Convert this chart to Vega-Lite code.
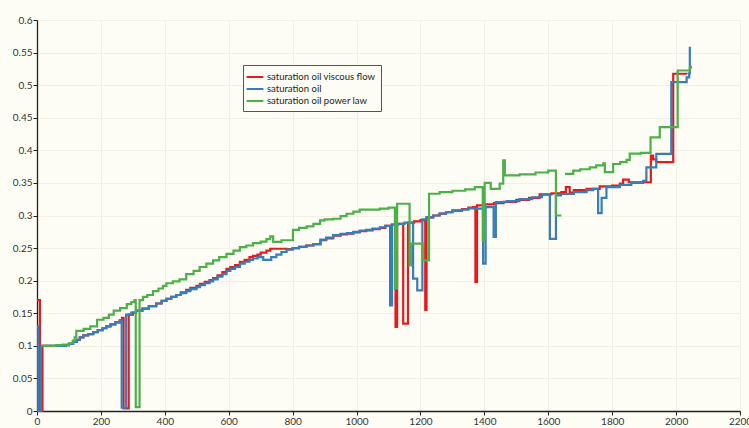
{
  "$schema": "https://vega.github.io/schema/vega-lite/v6.json",
  "width": 703,
  "height": 391,
  "autosize": {"type": "none"},
  "padding": {"left": 37, "top": 20, "right": 9, "bottom": 17},
  "background": "#fdfdf5",
  "config": {
    "view": {"stroke": null, "fill": "#fdfdf5"},
    "font": "Lato",
    "axis": {
      "grid": true,
      "gridColor": "#f1f1e4",
      "gridWidth": 1,
      "domainColor": "#222222",
      "domainWidth": 1.3,
      "tickColor": "#222222",
      "tickSize": 4,
      "labelFont": "Lato",
      "labelFontSize": 10,
      "labelColor": "#333333",
      "title": null
    }
  },
  "datasets": {
    "series": [
      {"s": "saturation oil viscous flow", "x": 0, "y": 0.17},
      {"s": "saturation oil viscous flow", "x": 9, "y": 0},
      {"s": "saturation oil viscous flow", "x": 17, "y": 0.1},
      {"s": "saturation oil viscous flow", "x": 60, "y": 0.1},
      {"s": "saturation oil viscous flow", "x": 90, "y": 0.101},
      {"s": "saturation oil viscous flow", "x": 100, "y": 0.103},
      {"s": "saturation oil viscous flow", "x": 113, "y": 0.106},
      {"s": "saturation oil viscous flow", "x": 125, "y": 0.109},
      {"s": "saturation oil viscous flow", "x": 134, "y": 0.113},
      {"s": "saturation oil viscous flow", "x": 145, "y": 0.116},
      {"s": "saturation oil viscous flow", "x": 160, "y": 0.118},
      {"s": "saturation oil viscous flow", "x": 176, "y": 0.121},
      {"s": "saturation oil viscous flow", "x": 190, "y": 0.124},
      {"s": "saturation oil viscous flow", "x": 205, "y": 0.127},
      {"s": "saturation oil viscous flow", "x": 217, "y": 0.13},
      {"s": "saturation oil viscous flow", "x": 230, "y": 0.133},
      {"s": "saturation oil viscous flow", "x": 245, "y": 0.136},
      {"s": "saturation oil viscous flow", "x": 259, "y": 0.139},
      {"s": "saturation oil viscous flow", "x": 266, "y": 0.143},
      {"s": "saturation oil viscous flow", "x": 271, "y": 0.004},
      {"s": "saturation oil viscous flow", "x": 287, "y": 0.148},
      {"s": "saturation oil viscous flow", "x": 300, "y": 0.151},
      {"s": "saturation oil viscous flow", "x": 310, "y": 0.154},
      {"s": "saturation oil viscous flow", "x": 330, "y": 0.157},
      {"s": "saturation oil viscous flow", "x": 350, "y": 0.161},
      {"s": "saturation oil viscous flow", "x": 373, "y": 0.165},
      {"s": "saturation oil viscous flow", "x": 390, "y": 0.169},
      {"s": "saturation oil viscous flow", "x": 405, "y": 0.172},
      {"s": "saturation oil viscous flow", "x": 420, "y": 0.175},
      {"s": "saturation oil viscous flow", "x": 436, "y": 0.178},
      {"s": "saturation oil viscous flow", "x": 450, "y": 0.182},
      {"s": "saturation oil viscous flow", "x": 467, "y": 0.186},
      {"s": "saturation oil viscous flow", "x": 480, "y": 0.189},
      {"s": "saturation oil viscous flow", "x": 499, "y": 0.192},
      {"s": "saturation oil viscous flow", "x": 510, "y": 0.195},
      {"s": "saturation oil viscous flow", "x": 525, "y": 0.198},
      {"s": "saturation oil viscous flow", "x": 540, "y": 0.201},
      {"s": "saturation oil viscous flow", "x": 551, "y": 0.204},
      {"s": "saturation oil viscous flow", "x": 565, "y": 0.208},
      {"s": "saturation oil viscous flow", "x": 580, "y": 0.213},
      {"s": "saturation oil viscous flow", "x": 593, "y": 0.218},
      {"s": "saturation oil viscous flow", "x": 605, "y": 0.221},
      {"s": "saturation oil viscous flow", "x": 620, "y": 0.224},
      {"s": "saturation oil viscous flow", "x": 635, "y": 0.229},
      {"s": "saturation oil viscous flow", "x": 650, "y": 0.232},
      {"s": "saturation oil viscous flow", "x": 665, "y": 0.236},
      {"s": "saturation oil viscous flow", "x": 676, "y": 0.238},
      {"s": "saturation oil viscous flow", "x": 690, "y": 0.24},
      {"s": "saturation oil viscous flow", "x": 700, "y": 0.243},
      {"s": "saturation oil viscous flow", "x": 718, "y": 0.246},
      {"s": "saturation oil viscous flow", "x": 730, "y": 0.249},
      {"s": "saturation oil viscous flow", "x": 781, "y": 0.2485},
      {"s": "saturation oil viscous flow", "x": 800, "y": 0.25},
      {"s": "saturation oil viscous flow", "x": 820, "y": 0.252},
      {"s": "saturation oil viscous flow", "x": 843, "y": 0.254},
      {"s": "saturation oil viscous flow", "x": 865, "y": 0.256},
      {"s": "saturation oil viscous flow", "x": 887, "y": 0.262},
      {"s": "saturation oil viscous flow", "x": 905, "y": 0.265},
      {"s": "saturation oil viscous flow", "x": 927, "y": 0.269},
      {"s": "saturation oil viscous flow", "x": 950, "y": 0.271},
      {"s": "saturation oil viscous flow", "x": 970, "y": 0.272},
      {"s": "saturation oil viscous flow", "x": 990, "y": 0.274},
      {"s": "saturation oil viscous flow", "x": 1010, "y": 0.276},
      {"s": "saturation oil viscous flow", "x": 1030, "y": 0.277},
      {"s": "saturation oil viscous flow", "x": 1050, "y": 0.279},
      {"s": "saturation oil viscous flow", "x": 1073, "y": 0.281},
      {"s": "saturation oil viscous flow", "x": 1090, "y": 0.284},
      {"s": "saturation oil viscous flow", "x": 1110, "y": 0.286},
      {"s": "saturation oil viscous flow", "x": 1122, "y": 0.129},
      {"s": "saturation oil viscous flow", "x": 1127, "y": 0.287},
      {"s": "saturation oil viscous flow", "x": 1146, "y": 0.134},
      {"s": "saturation oil viscous flow", "x": 1161, "y": 0.289},
      {"s": "saturation oil viscous flow", "x": 1180, "y": 0.291},
      {"s": "saturation oil viscous flow", "x": 1200, "y": 0.293},
      {"s": "saturation oil viscous flow", "x": 1215, "y": 0.155},
      {"s": "saturation oil viscous flow", "x": 1219, "y": 0.297},
      {"s": "saturation oil viscous flow", "x": 1240, "y": 0.3},
      {"s": "saturation oil viscous flow", "x": 1260, "y": 0.303},
      {"s": "saturation oil viscous flow", "x": 1280, "y": 0.305},
      {"s": "saturation oil viscous flow", "x": 1300, "y": 0.308},
      {"s": "saturation oil viscous flow", "x": 1330, "y": 0.31},
      {"s": "saturation oil viscous flow", "x": 1350, "y": 0.312},
      {"s": "saturation oil viscous flow", "x": 1365, "y": 0.313},
      {"s": "saturation oil viscous flow", "x": 1372, "y": 0.198},
      {"s": "saturation oil viscous flow", "x": 1377, "y": 0.3155},
      {"s": "saturation oil viscous flow", "x": 1400, "y": 0.317},
      {"s": "saturation oil viscous flow", "x": 1430, "y": 0.319},
      {"s": "saturation oil viscous flow", "x": 1460, "y": 0.321},
      {"s": "saturation oil viscous flow", "x": 1500, "y": 0.324},
      {"s": "saturation oil viscous flow", "x": 1540, "y": 0.327},
      {"s": "saturation oil viscous flow", "x": 1573, "y": 0.3324},
      {"s": "saturation oil viscous flow", "x": 1610, "y": 0.334},
      {"s": "saturation oil viscous flow", "x": 1641, "y": 0.336},
      {"s": "saturation oil viscous flow", "x": 1655, "y": 0.3436},
      {"s": "saturation oil viscous flow", "x": 1667, "y": 0.335},
      {"s": "saturation oil viscous flow", "x": 1680, "y": 0.339},
      {"s": "saturation oil viscous flow", "x": 1720, "y": 0.341},
      {"s": "saturation oil viscous flow", "x": 1761, "y": 0.3446},
      {"s": "saturation oil viscous flow", "x": 1800, "y": 0.346},
      {"s": "saturation oil viscous flow", "x": 1824, "y": 0.3488},
      {"s": "saturation oil viscous flow", "x": 1834, "y": 0.355},
      {"s": "saturation oil viscous flow", "x": 1852, "y": 0.351},
      {"s": "saturation oil viscous flow", "x": 1921, "y": 0.392},
      {"s": "saturation oil viscous flow", "x": 1928, "y": 0.386},
      {"s": "saturation oil viscous flow", "x": 1938, "y": 0.382},
      {"s": "saturation oil viscous flow", "x": 1991, "y": 0.5175},
      {"s": "saturation oil viscous flow", "x": 2033, "y": 0.5166},

      {"s": "saturation oil", "x": 0, "y": 0.13},
      {"s": "saturation oil", "x": 4, "y": 0},
      {"s": "saturation oil", "x": 12, "y": 0.1},
      {"s": "saturation oil", "x": 60, "y": 0.1},
      {"s": "saturation oil", "x": 90, "y": 0.101},
      {"s": "saturation oil", "x": 100, "y": 0.103},
      {"s": "saturation oil", "x": 113, "y": 0.106},
      {"s": "saturation oil", "x": 125, "y": 0.109},
      {"s": "saturation oil", "x": 134, "y": 0.113},
      {"s": "saturation oil", "x": 145, "y": 0.116},
      {"s": "saturation oil", "x": 160, "y": 0.118},
      {"s": "saturation oil", "x": 176, "y": 0.121},
      {"s": "saturation oil", "x": 190, "y": 0.124},
      {"s": "saturation oil", "x": 205, "y": 0.127},
      {"s": "saturation oil", "x": 217, "y": 0.13},
      {"s": "saturation oil", "x": 230, "y": 0.133},
      {"s": "saturation oil", "x": 245, "y": 0.136},
      {"s": "saturation oil", "x": 259, "y": 0.139},
      {"s": "saturation oil", "x": 265, "y": 0.005},
      {"s": "saturation oil", "x": 279, "y": 0.148},
      {"s": "saturation oil", "x": 295, "y": 0.151},
      {"s": "saturation oil", "x": 310, "y": 0.154},
      {"s": "saturation oil", "x": 330, "y": 0.157},
      {"s": "saturation oil", "x": 350, "y": 0.161},
      {"s": "saturation oil", "x": 373, "y": 0.165},
      {"s": "saturation oil", "x": 390, "y": 0.169},
      {"s": "saturation oil", "x": 405, "y": 0.172},
      {"s": "saturation oil", "x": 420, "y": 0.175},
      {"s": "saturation oil", "x": 436, "y": 0.178},
      {"s": "saturation oil", "x": 450, "y": 0.181},
      {"s": "saturation oil", "x": 467, "y": 0.184},
      {"s": "saturation oil", "x": 480, "y": 0.187},
      {"s": "saturation oil", "x": 499, "y": 0.19},
      {"s": "saturation oil", "x": 510, "y": 0.193},
      {"s": "saturation oil", "x": 525, "y": 0.196},
      {"s": "saturation oil", "x": 540, "y": 0.199},
      {"s": "saturation oil", "x": 551, "y": 0.202},
      {"s": "saturation oil", "x": 565, "y": 0.206},
      {"s": "saturation oil", "x": 580, "y": 0.21},
      {"s": "saturation oil", "x": 593, "y": 0.215},
      {"s": "saturation oil", "x": 605, "y": 0.218},
      {"s": "saturation oil", "x": 620, "y": 0.221},
      {"s": "saturation oil", "x": 635, "y": 0.226},
      {"s": "saturation oil", "x": 650, "y": 0.229},
      {"s": "saturation oil", "x": 665, "y": 0.232},
      {"s": "saturation oil", "x": 676, "y": 0.234},
      {"s": "saturation oil", "x": 690, "y": 0.236},
      {"s": "saturation oil", "x": 708, "y": 0.232},
      {"s": "saturation oil", "x": 733, "y": 0.236},
      {"s": "saturation oil", "x": 749, "y": 0.24},
      {"s": "saturation oil", "x": 765, "y": 0.244},
      {"s": "saturation oil", "x": 781, "y": 0.2475},
      {"s": "saturation oil", "x": 800, "y": 0.25},
      {"s": "saturation oil", "x": 820, "y": 0.252},
      {"s": "saturation oil", "x": 843, "y": 0.254},
      {"s": "saturation oil", "x": 865, "y": 0.256},
      {"s": "saturation oil", "x": 887, "y": 0.263},
      {"s": "saturation oil", "x": 905, "y": 0.266},
      {"s": "saturation oil", "x": 927, "y": 0.27},
      {"s": "saturation oil", "x": 950, "y": 0.272},
      {"s": "saturation oil", "x": 970, "y": 0.273},
      {"s": "saturation oil", "x": 990, "y": 0.275},
      {"s": "saturation oil", "x": 1010, "y": 0.277},
      {"s": "saturation oil", "x": 1030, "y": 0.278},
      {"s": "saturation oil", "x": 1050, "y": 0.28},
      {"s": "saturation oil", "x": 1073, "y": 0.282},
      {"s": "saturation oil", "x": 1090, "y": 0.284},
      {"s": "saturation oil", "x": 1105, "y": 0.162},
      {"s": "saturation oil", "x": 1111, "y": 0.286},
      {"s": "saturation oil", "x": 1130, "y": 0.287},
      {"s": "saturation oil", "x": 1150, "y": 0.289},
      {"s": "saturation oil", "x": 1177, "y": 0.203},
      {"s": "saturation oil", "x": 1190, "y": 0.185},
      {"s": "saturation oil", "x": 1206, "y": 0.294},
      {"s": "saturation oil", "x": 1219, "y": 0.297},
      {"s": "saturation oil", "x": 1240, "y": 0.3},
      {"s": "saturation oil", "x": 1260, "y": 0.303},
      {"s": "saturation oil", "x": 1280, "y": 0.305},
      {"s": "saturation oil", "x": 1300, "y": 0.307},
      {"s": "saturation oil", "x": 1330, "y": 0.309},
      {"s": "saturation oil", "x": 1350, "y": 0.311},
      {"s": "saturation oil", "x": 1370, "y": 0.3104},
      {"s": "saturation oil", "x": 1396, "y": 0.226},
      {"s": "saturation oil", "x": 1404, "y": 0.313},
      {"s": "saturation oil", "x": 1429, "y": 0.267},
      {"s": "saturation oil", "x": 1436, "y": 0.3206},
      {"s": "saturation oil", "x": 1470, "y": 0.322},
      {"s": "saturation oil", "x": 1510, "y": 0.325},
      {"s": "saturation oil", "x": 1550, "y": 0.328},
      {"s": "saturation oil", "x": 1580, "y": 0.332},
      {"s": "saturation oil", "x": 1605, "y": 0.264},
      {"s": "saturation oil", "x": 1624, "y": 0.331},
      {"s": "saturation oil", "x": 1640, "y": 0.333},
      {"s": "saturation oil", "x": 1680, "y": 0.336},
      {"s": "saturation oil", "x": 1720, "y": 0.339},
      {"s": "saturation oil", "x": 1740, "y": 0.341},
      {"s": "saturation oil", "x": 1756, "y": 0.3037},
      {"s": "saturation oil", "x": 1767, "y": 0.327},
      {"s": "saturation oil", "x": 1782, "y": 0.3436},
      {"s": "saturation oil", "x": 1824, "y": 0.347},
      {"s": "saturation oil", "x": 1860, "y": 0.35},
      {"s": "saturation oil", "x": 1897, "y": 0.353},
      {"s": "saturation oil", "x": 1907, "y": 0.374},
      {"s": "saturation oil", "x": 1938, "y": 0.3947},
      {"s": "saturation oil", "x": 1985, "y": 0.5046},
      {"s": "saturation oil", "x": 2033, "y": 0.512},
      {"s": "saturation oil", "x": 2041, "y": 0.518},
      {"s": "saturation oil", "x": 2043, "y": 0.559},

      {"s": "saturation oil power law", "x": 14, "y": 0.1},
      {"s": "saturation oil power law", "x": 60, "y": 0.101},
      {"s": "saturation oil power law", "x": 80, "y": 0.102},
      {"s": "saturation oil power law", "x": 100, "y": 0.104},
      {"s": "saturation oil power law", "x": 112, "y": 0.108},
      {"s": "saturation oil power law", "x": 118, "y": 0.113},
      {"s": "saturation oil power law", "x": 123, "y": 0.123},
      {"s": "saturation oil power law", "x": 146, "y": 0.126},
      {"s": "saturation oil power law", "x": 167, "y": 0.13},
      {"s": "saturation oil power law", "x": 188, "y": 0.14},
      {"s": "saturation oil power law", "x": 208, "y": 0.143},
      {"s": "saturation oil power law", "x": 225, "y": 0.148},
      {"s": "saturation oil power law", "x": 240, "y": 0.154},
      {"s": "saturation oil power law", "x": 260, "y": 0.158},
      {"s": "saturation oil power law", "x": 281, "y": 0.164},
      {"s": "saturation oil power law", "x": 295, "y": 0.167},
      {"s": "saturation oil power law", "x": 305, "y": 0.17},
      {"s": "saturation oil power law", "x": 309, "y": 0.006},
      {"s": "saturation oil power law", "x": 321, "y": 0.17},
      {"s": "saturation oil power law", "x": 332, "y": 0.175},
      {"s": "saturation oil power law", "x": 345, "y": 0.178},
      {"s": "saturation oil power law", "x": 363, "y": 0.184},
      {"s": "saturation oil power law", "x": 380, "y": 0.188},
      {"s": "saturation oil power law", "x": 394, "y": 0.192},
      {"s": "saturation oil power law", "x": 405, "y": 0.196},
      {"s": "saturation oil power law", "x": 425, "y": 0.199},
      {"s": "saturation oil power law", "x": 446, "y": 0.202},
      {"s": "saturation oil power law", "x": 467, "y": 0.21},
      {"s": "saturation oil power law", "x": 490, "y": 0.215},
      {"s": "saturation oil power law", "x": 509, "y": 0.221},
      {"s": "saturation oil power law", "x": 530, "y": 0.226},
      {"s": "saturation oil power law", "x": 551, "y": 0.231},
      {"s": "saturation oil power law", "x": 570, "y": 0.236},
      {"s": "saturation oil power law", "x": 593, "y": 0.241},
      {"s": "saturation oil power law", "x": 615, "y": 0.246},
      {"s": "saturation oil power law", "x": 635, "y": 0.2515},
      {"s": "saturation oil power law", "x": 655, "y": 0.254},
      {"s": "saturation oil power law", "x": 676, "y": 0.2577},
      {"s": "saturation oil power law", "x": 700, "y": 0.26},
      {"s": "saturation oil power law", "x": 718, "y": 0.2638},
      {"s": "saturation oil power law", "x": 730, "y": 0.268},
      {"s": "saturation oil power law", "x": 739, "y": 0.2595},
      {"s": "saturation oil power law", "x": 765, "y": 0.262},
      {"s": "saturation oil power law", "x": 801, "y": 0.278},
      {"s": "saturation oil power law", "x": 820, "y": 0.281},
      {"s": "saturation oil power law", "x": 844, "y": 0.2833},
      {"s": "saturation oil power law", "x": 865, "y": 0.287},
      {"s": "saturation oil power law", "x": 886, "y": 0.2925},
      {"s": "saturation oil power law", "x": 900, "y": 0.294},
      {"s": "saturation oil power law", "x": 927, "y": 0.295},
      {"s": "saturation oil power law", "x": 950, "y": 0.299},
      {"s": "saturation oil power law", "x": 969, "y": 0.3027},
      {"s": "saturation oil power law", "x": 990, "y": 0.306},
      {"s": "saturation oil power law", "x": 1010, "y": 0.309},
      {"s": "saturation oil power law", "x": 1073, "y": 0.3104},
      {"s": "saturation oil power law", "x": 1100, "y": 0.312},
      {"s": "saturation oil power law", "x": 1120, "y": 0.188},
      {"s": "saturation oil power law", "x": 1127, "y": 0.318},
      {"s": "saturation oil power law", "x": 1166, "y": 0.2235},
      {"s": "saturation oil power law", "x": 1170, "y": 0.2567},
      {"s": "saturation oil power law", "x": 1207, "y": 0.231},
      {"s": "saturation oil power law", "x": 1227, "y": 0.3334},
      {"s": "saturation oil power law", "x": 1260, "y": 0.336},
      {"s": "saturation oil power law", "x": 1300, "y": 0.338},
      {"s": "saturation oil power law", "x": 1340, "y": 0.34},
      {"s": "saturation oil power law", "x": 1370, "y": 0.3436},
      {"s": "saturation oil power law", "x": 1395, "y": 0.262},
      {"s": "saturation oil power law", "x": 1401, "y": 0.35},
      {"s": "saturation oil power law", "x": 1420, "y": 0.341},
      {"s": "saturation oil power law", "x": 1448, "y": 0.349},
      {"s": "saturation oil power law", "x": 1459, "y": 0.3845},
      {"s": "saturation oil power law", "x": 1464, "y": 0.3615},
      {"s": "saturation oil power law", "x": 1510, "y": 0.363},
      {"s": "saturation oil power law", "x": 1560, "y": 0.366},
      {"s": "saturation oil power law", "x": 1600, "y": 0.369},
      {"s": "saturation oil power law", "x": 1624, "y": 0.3},
      {"s": "saturation oil power law", "x": 1641, "y": 0.3},
      {"s": "saturation oil power law", "x": 1646, "y": null},
      {"s": "saturation oil power law", "x": 1652, "y": 0.364},
      {"s": "saturation oil power law", "x": 1678, "y": 0.369},
      {"s": "saturation oil power law", "x": 1700, "y": 0.371},
      {"s": "saturation oil power law", "x": 1730, "y": 0.374},
      {"s": "saturation oil power law", "x": 1750, "y": 0.377},
      {"s": "saturation oil power law", "x": 1772, "y": 0.38},
      {"s": "saturation oil power law", "x": 1777, "y": 0.3666},
      {"s": "saturation oil power law", "x": 1803, "y": 0.379},
      {"s": "saturation oil power law", "x": 1825, "y": 0.382},
      {"s": "saturation oil power law", "x": 1845, "y": 0.3855},
      {"s": "saturation oil power law", "x": 1855, "y": 0.3948},
      {"s": "saturation oil power law", "x": 1890, "y": 0.396},
      {"s": "saturation oil power law", "x": 1920, "y": 0.42},
      {"s": "saturation oil power law", "x": 1949, "y": 0.4356},
      {"s": "saturation oil power law", "x": 2005, "y": 0.5225},
      {"s": "saturation oil power law", "x": 2043, "y": 0.5267},
      {"s": "saturation oil power law", "x": 2046, "y": 0.53}
    ]
  },
  "data": {"name": "series"},
  "mark": {
    "type": "line",
    "interpolate": "step-after",
    "strokeWidth": 2.2,
    "invalid": "break-paths-filter-domains"
  },
  "encoding": {
    "x": {
      "field": "x",
      "type": "quantitative",
      "scale": {"domain": [0, 2200], "nice": false, "zero": false},
      "axis": {
        "values": [0, 200, 400, 600, 800, 1000, 1200, 1400, 1600, 1800, 2000, 2200],
        "format": "d",
        "labelFlush": false,
        "labelOverlap": false,
        "labelBound": false,
        "labelPadding": 1
      }
    },
    "y": {
      "field": "y",
      "type": "quantitative",
      "scale": {"domain": [0, 0.6], "nice": false},
      "axis": {
        "values": [0, 0.05, 0.1, 0.15, 0.2, 0.25, 0.3, 0.35, 0.4, 0.45, 0.5, 0.55, 0.6],
        "format": ".2~f",
        "labelOverlap": false,
        "labelFlush": false,
        "labelPadding": 1
      }
    },
    "color": {
      "field": "s",
      "type": "nominal",
      "sort": ["saturation oil viscous flow", "saturation oil", "saturation oil power law"],
      "scale": {
        "domain": ["saturation oil viscous flow", "saturation oil", "saturation oil power law"],
        "range": ["#e41a1c", "#377eb8", "#4daf4a"]
      },
      "legend": {
        "title": null,
        "orient": "none",
        "legendX": 206,
        "legendY": 45,
        "symbolType": "M-1.4,0H1.4",
        "symbolSize": 144,
        "symbolStrokeWidth": 2,
        "labelFont": "Lato",
        "labelFontSize": 9.5,
        "labelColor": "#222222",
        "labelOffset": 5,
        "rowPadding": 0,
        "padding": 5,
        "strokeColor": "#555555",
        "fillColor": "#fdfdf5"
      }
    }
  }
}
